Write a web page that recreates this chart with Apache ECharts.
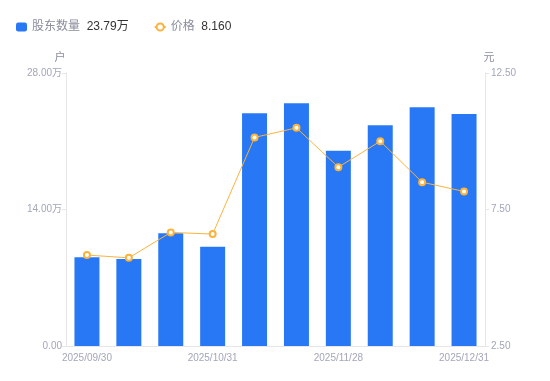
<!DOCTYPE html>
<html><head><meta charset="utf-8">
<script src="https://cdn.jsdelivr.net/npm/echarts@6/dist/echarts.min.js"></script>
<style>html,body{margin:0;padding:0;background:#fff}#c{width:550px;height:381px}</style>
</head><body><div id="c"></div>
<script>
var categories = ['2025/09/30','2025/10/10','2025/10/20','2025/10/31','2025/11/10','2025/11/20','2025/11/28','2025/12/10','2025/12/20','2025/12/31'];
var holders = [9.10, 8.92, 11.56, 10.18, 23.87, 24.89, 20.03, 22.64, 24.48, 23.79];
var prices = [5.83, 5.73, 6.66, 6.60, 10.14, 10.49, 9.05, 10.00, 8.50, 8.16];
var leftTicks = {min: 0, max: 28, interval: 14};
var rightTicks = {min: 2.5, max: 12.5, interval: 5};

var chart = echarts.init(document.getElementById('c'), null, {renderer: 'canvas'});
var font = '"Liberation Sans", Arial, "Noto Sans CJK SC", sans-serif';
var labelColor = '#a3a6b8';
chart.setOption({
  animation: false,
  textStyle: {fontFamily: font},
  legend: {
    left: 11, top: 16, itemWidth: 11, itemHeight: 9, itemGap: 25,
    lineStyle: {width: 2},
    data: [{name: '股东数量', icon: 'roundRect', itemWidth: 10}, {name: '价格'}],
    formatter: function (name) {
      if (name === '股东数量') return '{n|股东数量}  {v|' + holders[holders.length - 1].toFixed(2) + '万}';
      return '{n|价格}  {v|' + prices[prices.length - 1].toFixed(3) + '}';
    },
    textStyle: {fontFamily: font, fontSize: 12, rich: {n: {color: '#8a8d9c', fontSize: 12, fontFamily: font}, v: {color: '#333', fontSize: 12, fontFamily: font}}}
  },
  grid: {left: 66, right: 65, top: 73, bottom: 35},
  xAxis: {
    type: 'category', data: categories,
    axisLine: {lineStyle: {color: '#e6e6e6'}},
    axisTick: {show: false},
    axisLabel: {color: labelColor, fontSize: 10, interval: 2, margin: 7, fontFamily: font}
  },
  yAxis: [{
    type: 'value', name: '户', min: leftTicks.min, max: leftTicks.max, interval: leftTicks.interval,
    nameTextStyle: {color: '#8a8d9c', fontSize: 11, padding: [0, 12, 0, 0], fontFamily: font}, nameGap: 10,
    axisLine: {show: true, lineStyle: {color: '#e6e6e6'}},
    axisTick: {show: true, length: 4, lineStyle: {color: '#e6e6e6'}},
    splitLine: {show: false},
    axisLabel: {color: labelColor, fontSize: 10, margin: 4, fontFamily: font, formatter: function (v) { return v === 0 ? '0.00' : v.toFixed(2) + '万'; }}
  }, {
    type: 'value', name: '元', min: rightTicks.min, max: rightTicks.max, interval: rightTicks.interval,
    nameTextStyle: {color: '#8a8d9c', fontSize: 11, padding: [0, 0, 0, 8], fontFamily: font}, nameGap: 10,
    axisLine: {show: true, lineStyle: {color: '#e6e6e6'}},
    axisTick: {show: true, length: 4, lineStyle: {color: '#e6e6e6'}},
    splitLine: {show: false},
    axisLabel: {color: labelColor, fontSize: 10, margin: 6, fontFamily: font, formatter: function (v) { return v.toFixed(2); }}
  }],
  series: [{
    name: '股东数量', type: 'bar', data: holders, yAxisIndex: 0, barWidth: 25,
    itemStyle: {color: '#2878f5'}
  }, {
    name: '价格', type: 'line', data: prices, yAxisIndex: 1,
    symbol: 'circle', symbolSize: 6,
    lineStyle: {color: '#fbb33c', width: 1},
    itemStyle: {color: '#fff', borderColor: '#fbb33c', borderWidth: 2}
  }]
});
</script></body></html>
